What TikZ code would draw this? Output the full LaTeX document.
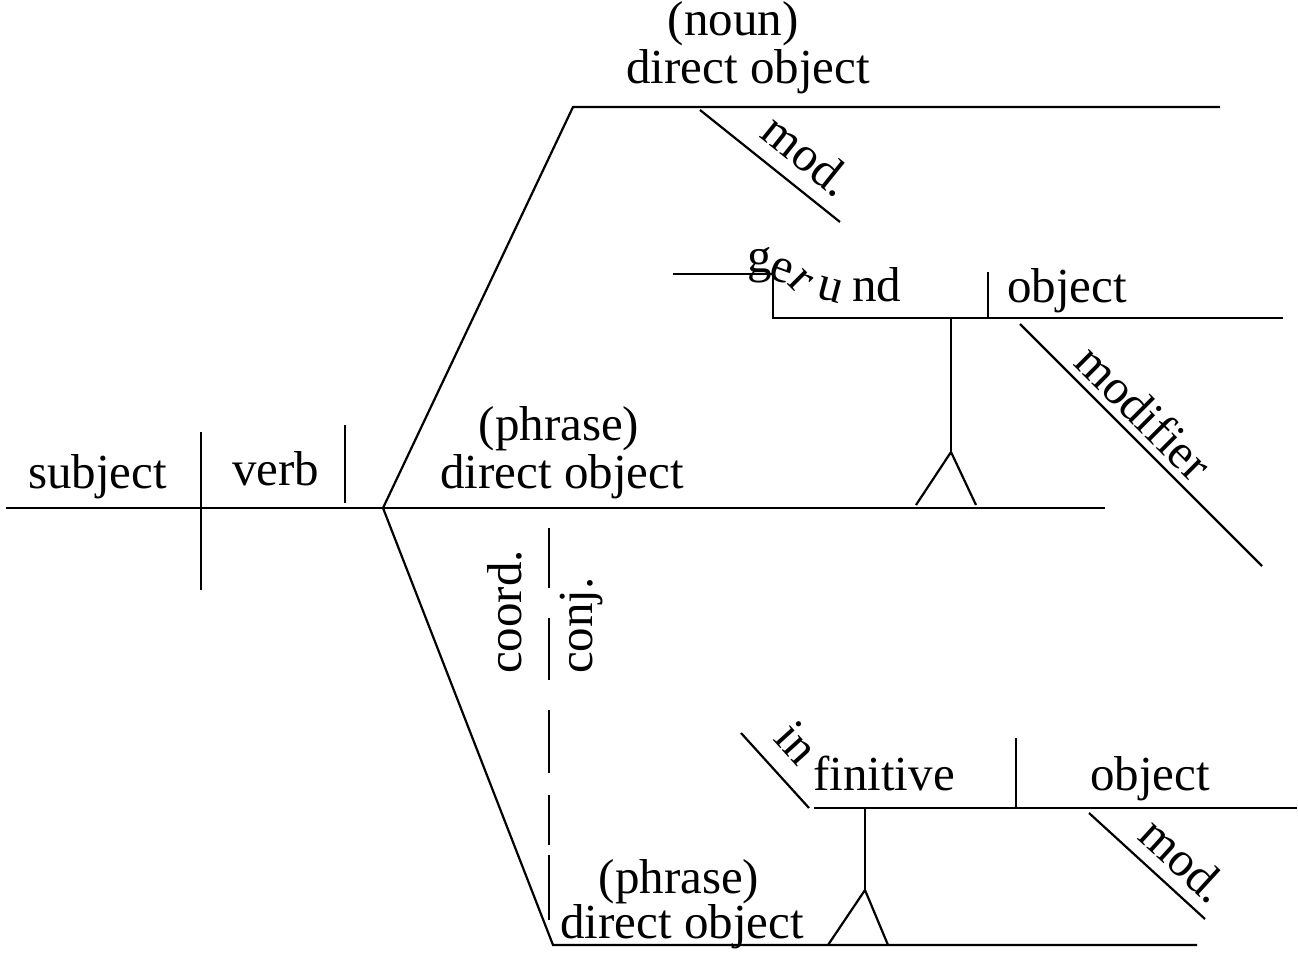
\documentclass[tikz,border=0pt]{standalone}
\usepackage{fontspec}
\setmainfont{Liberation Serif}
\begin{document}
\begin{tikzpicture}[x=1pt,y=-1pt,
  ln/.style={line width=2.2pt, line cap=butt},
  lbl/.style={inner sep=0pt, font=\fontsize{49}{58}\selectfont}]
\useasboundingbox[fill=white] (0,0) rectangle (1298,955);
% ---- coordinates
\coordinate (L0) at (6,508);
\coordinate (V) at (383,508);
\coordinate (R0) at (1105,508);
\coordinate (sv1) at (201,432); \coordinate (sv2) at (201,590);
\coordinate (ve1) at (345,425); \coordinate (ve2) at (345,503);
\coordinate (T0) at (573,107); \coordinate (T1) at (1220,107);
\coordinate (B0) at (553,945); \coordinate (B1) at (1197,945);
\coordinate (m1a) at (700,110); \coordinate (m1b) at (840,222);
% gerund
\coordinate (g0) at (673,274); \coordinate (g1) at (773,274);
\coordinate (g2) at (773,318); \coordinate (g3) at (1283,318);
\coordinate (gd1) at (988,272); \coordinate (gd2) at (988,318);
\coordinate (gs1) at (951,318); \coordinate (gs2) at (951,452);
\coordinate (gl) at (916,505); \coordinate (gr) at (976,505);
\coordinate (mda) at (1020,324); \coordinate (mdb) at (1262,566);
% infinitive
\coordinate (i0) at (741,733); \coordinate (i1) at (809,808);
\coordinate (i2) at (814,808); \coordinate (i3) at (1297,808);
\coordinate (id1) at (1016,738); \coordinate (id2) at (1016,808);
\coordinate (is1) at (865,808); \coordinate (is2) at (865,890);
\coordinate (il) at (828,945); \coordinate (ir) at (888,945);
\coordinate (m2a) at (1089,813); \coordinate (m2b) at (1205,919);
% ---- lines
\draw[ln] (L0) -- (R0);
\draw[ln] (sv1) -- (sv2);
\draw[ln] (ve1) -- (ve2);
\draw[ln] (V) -- (T0) -- (T1);
\draw[ln] (V) -- (B0) -- (B1);
\draw[ln] (m1a) -- (m1b);
\draw[ln] (g0) -- (g1) -- (g2) -- (g3);
\draw[ln] (gd1) -- (gd2);
\draw[ln] (gs1) -- (gs2);
\draw[ln] (gl) -- (gs2) -- (gr);
\draw[ln] (mda) -- (mdb);
\draw[ln] (i0) -- (i1);
\draw[ln] (i2) -- (i3);
\draw[ln] (id1) -- (id2);
\draw[ln] (is1) -- (is2);
\draw[ln] (il) -- (is2) -- (ir);
\draw[ln] (m2a) -- (m2b);
% dashed coordinating line
\foreach \a/\b in {528/588, 618/680, 710/773, 795/845, 855/920}
  \draw[ln] (549,\a) -- (549,\b);
% ---- texts
\node[lbl, anchor=base west] (subj) at (28,488) {subject};
\node[lbl, anchor=base west] (verb) at (232,485) {verb};
\node[lbl, anchor=base] (noun) at (733,36) {(noun)};
\node[lbl, anchor=base] (dotop) at (748,84) {direct object};
\node[lbl, rotate=-38.7] (mod1) at (808,155) {mod.};
\node[lbl, anchor=base] (phr1) at (559,440) {(phrase)};
\node[lbl, anchor=base] (domid) at (562,488) {direct object};
\node[lbl, anchor=base] (phr2) at (679,893) {(phrase)};
\node[lbl, anchor=base] (dobot) at (682,938) {direct object};
% gerund letters
\node[lbl, anchor=base west] (ger1) at (747,272) {g};
\node[lbl, rotate=-20] (ger2) at (782,271) {e};
\node[lbl, rotate=-45] (ger3) at (800,281) {r};
\node[lbl, rotate=-15] (ger4) at (830,290) {u};
\node[lbl, anchor=base west] (ger5) at (852,301) {nd};
\node[lbl, anchor=base west] (gobj) at (1007,302) {object};
\node[lbl, rotate=-45] (modf) at (1144,412) {modifier};
% coordinating conjunction
\node[lbl, rotate=90, anchor=base west] (coord) at (521,674) {coord.};
\node[lbl, rotate=90, anchor=base west] (conj) at (592,674) {conj.};
% infinitive
\node[lbl, rotate=-47.8] (inf1) at (797,743) {in};
\node[lbl, anchor=base west] (inf2) at (813,790) {finitive};
\node[lbl, anchor=base west] (iobj) at (1090,790) {object};
\node[lbl, rotate=-42.4] (mod2) at (1184,860) {mod.};
\end{tikzpicture}
\end{document}
